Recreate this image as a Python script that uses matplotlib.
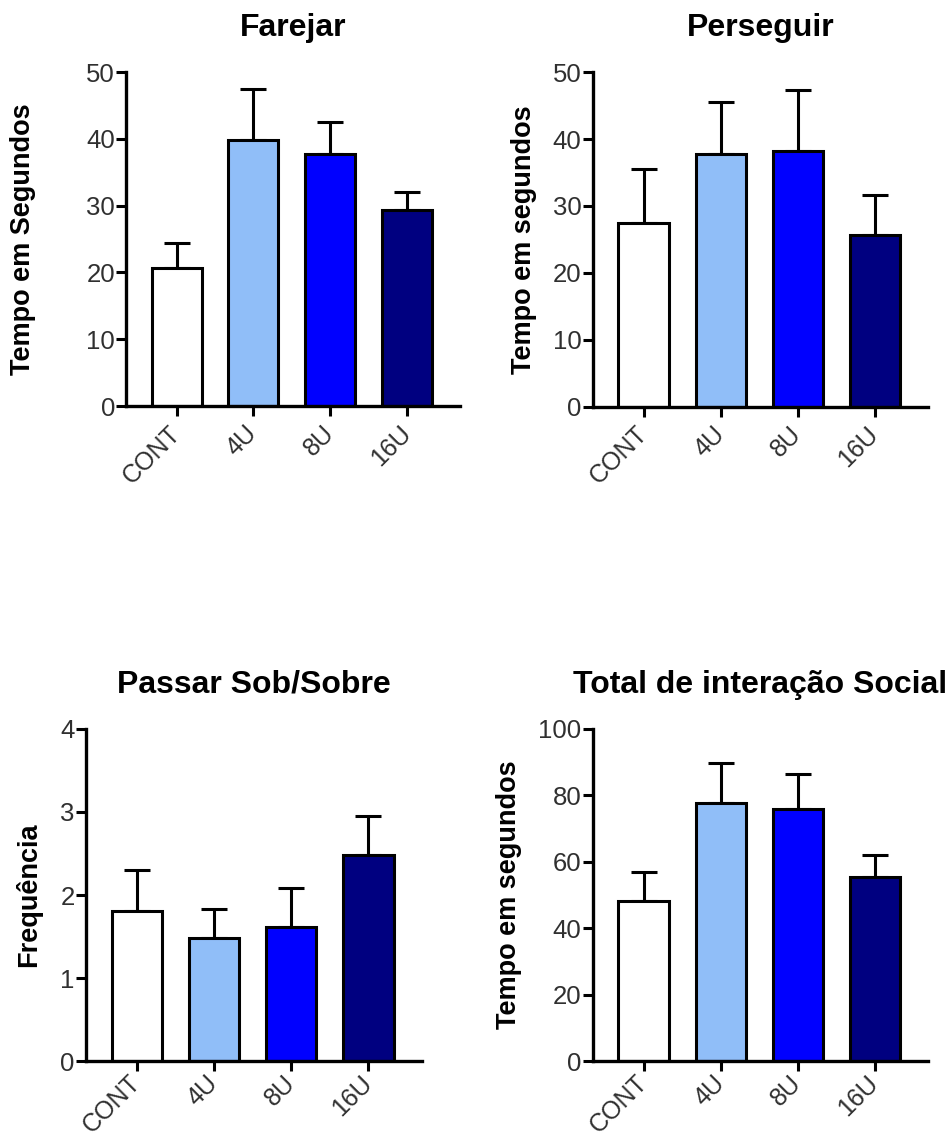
import numpy as np
import matplotlib
matplotlib.use('Agg')
import matplotlib.pyplot as plt

plt.rcParams['font.family'] = ['Liberation Sans', 'DejaVu Sans']

# Data
groups = ['CONT', '4U', '8U', '16U']
colors = ['#FFFFFF', '#90BEF8', '#0000FF', '#000080']

farejar_mean = [20.7, 39.8, 37.7, 29.4]
farejar_err = [3.7, 7.7, 4.8, 2.7]

perseguir_mean = [27.5, 37.7, 38.2, 25.7]
perseguir_err = [8.0, 7.9, 9.1, 5.9]

passar_mean = [1.81, 1.48, 1.61, 2.48]
passar_err = [0.49, 0.35, 0.47, 0.47]

total_mean = [48.3, 77.6, 75.8, 55.5]
total_err = [8.5, 12.1, 10.6, 6.5]

panels = [
    ('Farejar', 'Tempo em Segundos', farejar_mean, farejar_err, 50, [0, 10, 20, 30, 40, 50],
     [0.1322, 0.6457, 0.3505, 0.2914], -0.308, 10),
    ('Perseguir', 'Tempo em segundos', perseguir_mean, perseguir_err, 50, [0, 10, 20, 30, 40, 50],
     [0.6219, 0.6451, 0.3518, 0.2920], -0.205, 10),
    ('Passar Sob/Sobre', 'Frequência', passar_mean, passar_err, 4, [0, 1, 2, 3, 4],
     [0.0902, 0.0740, 0.3523, 0.2900], -0.17, 6),
    ('Total de interação Social', 'Tempo em segundos', total_mean, total_err, 100, [0, 20, 40, 60, 80, 100],
     [0.6219, 0.0740, 0.3518, 0.2900], -0.25, 6),
]

fig = plt.figure(figsize=(9.53, 11.46), dpi=100)

for title, ylabel, means, errs, ymax, yticks, rect, label_x, xpad in panels:
    ax = fig.add_axes(rect)
    x = np.arange(len(groups))
    ax.errorbar(x, means, yerr=[np.zeros(len(errs)), errs], fmt='none',
                ecolor='black', elinewidth=2.2, capsize=9.5, capthick=2.2, zorder=1)
    ax.bar(x, means, width=0.65, color=colors, edgecolor='black', linewidth=2.2, zorder=2)

    ax.set_xlim(-0.66, 3.69)
    ax.set_ylim(0, ymax)
    ax.set_yticks(yticks)
    ax.set_xticks(x)
    ax.set_xticklabels(groups, rotation=45, ha='right', va='center',
                       rotation_mode='anchor', fontsize=18, color='#303030')
    ax.tick_params(axis='y', labelsize=18.5, labelcolor='#303030', length=7, width=2.2, pad=1)
    ax.tick_params(axis='x', length=7, width=2.2, pad=xpad)

    for s in ['top', 'right']:
        ax.spines[s].set_visible(False)
    for s in ['left', 'bottom']:
        ax.spines[s].set_linewidth(2.4)
    ax.spines['bottom'].set_zorder(3)

    ax.set_title(title, fontsize=23, fontweight='bold', pad=26)
    ax.set_ylabel(ylabel, fontsize=19.5, fontweight='bold', va='center')
    ax.yaxis.set_label_coords(label_x, 0.5)

fig.savefig('out.png', dpi=100)
